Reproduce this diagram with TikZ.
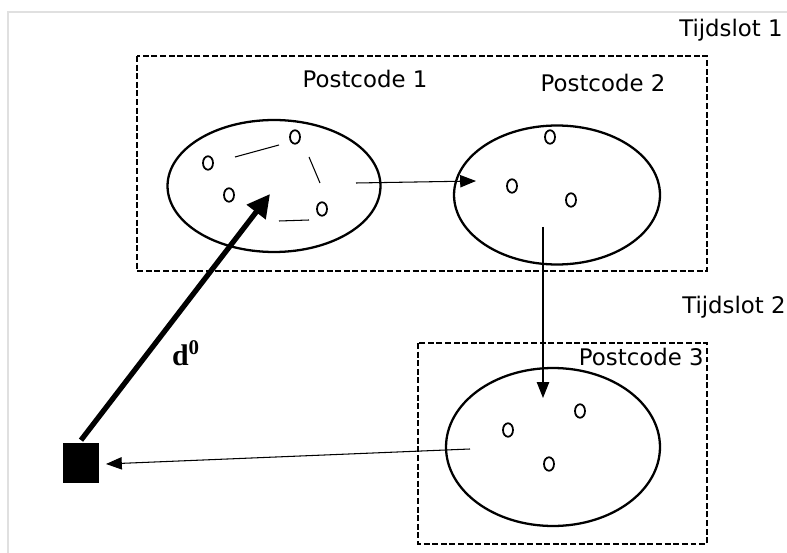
\documentclass[tikz,border=0pt]{standalone}
\usepackage{fontspec}
\setmainfont{DejaVu Sans}
\newfontfamily\serifbold{Liberation Serif}
\usetikzlibrary{shapes.geometric,arrows.meta}

\begin{document}
\begin{tikzpicture}[x=0.02cm,y=-0.02cm,
    zone/.style={draw,ellipse,line width=1.3pt,inner sep=0pt},
    klant/.style={draw,ellipse,line width=1pt,minimum width=0.2cm,minimum height=0.27cm,inner sep=0pt},
    slotbox/.style={line width=1.2pt,dash pattern=on 3.4pt off 1.5pt},
    label/.style={font=\fontsize{13}{15}\selectfont,inner sep=0pt},
    route/.style={line width=0.6pt,-{Triangle[length=9pt,width=7pt]}},
    link/.style={line width=0.6pt}]
  \useasboundingbox (0,0) rectangle (787,553);
  \draw[black!12,line width=0.8pt] (8,553) -- (8,12) -- (787,12);

  % tijdsloten
  \draw[slotbox] (137,56) rectangle (707,271);
  \draw[slotbox] (418,343) rectangle (707,544);
  \node[label,anchor=east] (ts1) at (783,30) {Tijdslot 1};
  \node[label,anchor=east] (ts2) at (786,307) {Tijdslot 2};

  % postcodes
  \node[zone,minimum width=4.26cm,minimum height=2.64cm] (pc1) at (274,186) {};
  \node[zone,minimum width=4.12cm,minimum height=2.78cm] (pc2) at (557,195) {};
  \node[zone,minimum width=4.28cm,minimum height=3.16cm] (pc3) at (553,447) {};
  \node[label] (pc1t) at (365,79) {Postcode 1};
  \node[label] (pc2t) at (603,83) {Postcode 2};
  \node[label,anchor=east] (pc3t) at (704,357) {Postcode 3};

  % klanten
  \node[klant] (a1) at (208,163) {};
  \node[klant] (a2) at (295,137) {};
  \node[klant] (a3) at (229,195) {};
  \node[klant] (a4) at (322,209) {};
  \node[klant] (b1) at (550,137) {};
  \node[klant] (b2) at (512,186) {};
  \node[klant] (b3) at (571,200) {};
  \node[klant] (c1) at (580,411) {};
  \node[klant] (c2) at (508,430) {};
  \node[klant] (c3) at (549,464) {};

  \draw[link] (235,157) -- (279,145);
  \draw[link] (309,157) -- (320,183);
  \draw[link] (279,221) -- (309,220);

  % depot
  \node[fill=black,minimum width=0.72cm,minimum height=0.82cm,inner sep=0pt] (depot) at (81,463) {};

  \coordinate (s1) at (356,183);
  \coordinate (e1) at (476,181);
  \coordinate (s2) at (543,227);
  \coordinate (e2) at (543,398);
  \coordinate (s3) at (470,449);
  \coordinate (e3) at (106,464);
  \coordinate (e4) at (270,194);

  \draw[route] (s1) -- (e1);
  \draw[route] (s2) -- (e2);
  \draw[route] (s3) -- (e3);
  \draw[line width=3pt,-{Triangle[length=13pt,width=13pt]}] (depot.north) ++(0,-2) -- (e4);
  \node[font=\serifbold\bfseries\fontsize{17}{20}\selectfont] (d0) at (186,353) {d\textsuperscript{0}};
\end{tikzpicture}
\end{document}
